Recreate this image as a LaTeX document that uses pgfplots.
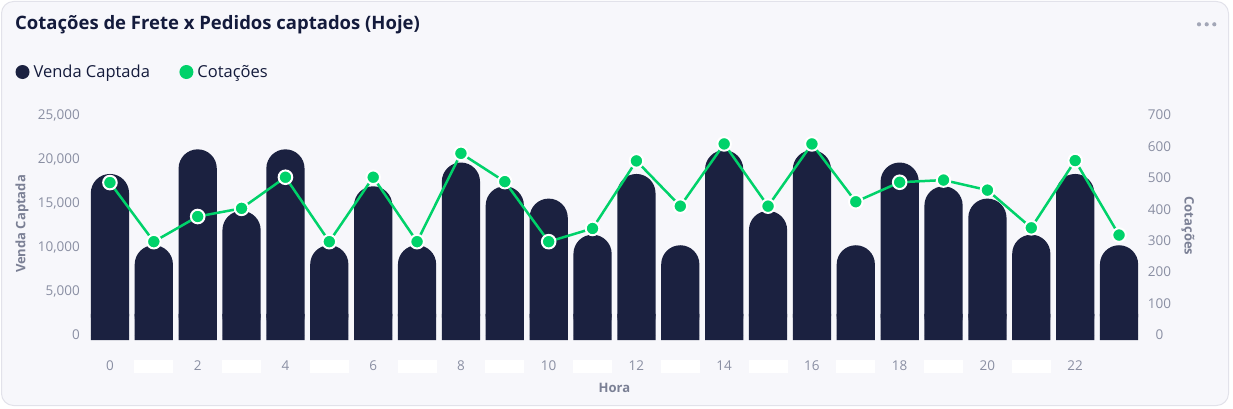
\documentclass[border=0pt]{standalone}
\usepackage{fontspec}
\setmainfont{Open Sans}
\usepackage{pgfplots}
\usepackage{pgfplotstable}
\pgfplotsset{compat=1.18}

\definecolor{navy}{HTML}{1B2140}
\definecolor{grn}{HTML}{00D26A}
\definecolor{ttl}{HTML}{141B3C}
\definecolor{tickc}{HTML}{8A8FA3}
\definecolor{axt}{HTML}{7B8095}
\definecolor{cardbg}{HTML}{F7F7FB}
\definecolor{cardbd}{HTML}{E2E2EA}
\definecolor{dots}{HTML}{A3A7B7}

\pgfplotstableread{
h v c
0 18300 485
1 10200 297
2 21100 377
3 14100 403
4 21100 502
5 10200 297
6 16900 502
7 10200 297
8 19600 578
9 16900 488
10 15500 297
11 11400 339
12 18300 554
13 10200 410
14 21000 608
15 14100 410
16 21000 608
17 10200 424
18 19600 486
19 16900 493
20 15500 461
21 11400 341
22 18300 555
23 10200 318
}\data

\newcommand{\wb}{\textcolor{white}{\rule{39pt}{13pt}}}
\newcommand{\tickfont}{\fontsize{13.5}{16}\selectfont}
\newcommand{\axfont}{\fontsize{13}{15}\selectfont\bfseries}

\begin{document}
\begin{tikzpicture}
\path[draw=none, fill=none] (0pt,0pt) rectangle (1233pt,408pt);
\draw[cardbd, fill=cardbg, rounded corners=12pt, line width=1pt] (1.5pt,2.5pt) rectangle (1228.5pt,406.5pt);
\node[anchor=west, inner sep=0pt, text=ttl, font=\fontsize{18.5}{22}\selectfont\bfseries] at (15pt,383pt) {Cotações de Frete x Pedidos captados (Hoje)};
\fill[dots] (1199pt,383.7pt) circle (2.1pt) (1206.7pt,383.7pt) circle (2.1pt) (1214.3pt,383.7pt) circle (2.1pt);

\begin{axis}[
  at={(88pt,68pt)}, anchor=south west, scale only axis,
  width=1053pt, height=225pt,
  xmin=-0.5, xmax=23.5, ymin=-568.2, ymax=25000,
  axis line style={draw=none}, major tick length=0pt,
  clip=false, scaled y ticks=false,
  xtick={0,...,23},
  xticklabels={0,\wb,2,\wb,4,\wb,6,\wb,8,\wb,10,\wb,12,\wb,14,\wb,16,\wb,18,\wb,20,\wb,22,},
  xticklabel style={anchor=center, yshift=-26pt, inner sep=0pt, font=\tickfont, text=tickc},
  ytick={0,5000,...,25000},
  yticklabel style={anchor=east, xshift=-8pt, inner sep=0pt, font=\tickfont, text=tickc,
    /pgf/number format/1000 sep={,}, /pgf/number format/assume math mode=true},
  xlabel={Hora}, ylabel={Venda Captada},
  every axis x label/.style={at={(rel axis cs:0.5,-0.2133)}, anchor=center, font=\axfont, text=axt},
  every axis y label/.style={at={(rel axis cs:-0.0627,0.5156)}, rotate=90, anchor=center, font=\axfont, text=axt},
  legend style={at={(rel axis cs:-0.06885,1.1911)}, anchor=west, draw=none, fill=none,
    inner sep=0pt, outer sep=0pt, font=\fontsize{16.5}{19}\selectfont,
    nodes={inner sep=0pt, text=ttl},
    /tikz/every even column/.append style={column sep=29.5pt}},
  legend columns=2,
]
\addlegendimage{legend image code/.code={\path[draw=none,fill=none] (0pt,0pt) rectangle (17.5pt,0pt); \fill[navy, draw=none] (6.5pt,0pt) circle (7pt);}}
\addlegendentry{Venda Captada}
\addlegendimage{legend image code/.code={\path[draw=none,fill=none] (0pt,0pt) rectangle (17.5pt,0pt); \fill[grn, draw=none] (6.5pt,0pt) circle (7pt);}}
\addlegendentry{Cotações}

% bars with fully rounded tops
\addplot[forget plot, ybar, bar width=38.2pt, bar shift=0pt, fill=navy, draw=none, rounded corners=19.1pt]
  table[x=h, y=v] {\data};
% flat bottom segments (cover the lower rounding and the small overhang below zero)
\addplot[forget plot, ybar, bar width=38.2pt, bar shift=0pt, fill=navy, draw=none]
  coordinates {(0,2400) (1,2400) (2,2400) (3,2400) (4,2400) (5,2400) (6,2400) (7,2400)
  (8,2400) (9,2400) (10,2400) (11,2400) (12,2400) (13,2400) (14,2400) (15,2400)
  (16,2400) (17,2400) (18,2400) (19,2400) (20,2400) (21,2400) (22,2400) (23,2400)};
\addplot[forget plot, ybar, bar width=38.2pt, bar shift=0pt, fill=navy, draw=none]
  coordinates {(0,-568) (1,-568) (2,-568) (3,-568) (4,-568) (5,-568) (6,-568) (7,-568)
  (8,-568) (9,-568) (10,-568) (11,-568) (12,-568) (13,-568) (14,-568) (15,-568)
  (16,-568) (17,-568) (18,-568) (19,-568) (20,-568) (21,-568) (22,-568) (23,-568)};
\end{axis}

\begin{axis}[
  at={(88pt,68pt)}, anchor=south west, scale only axis,
  width=1053pt, height=225pt,
  xmin=-0.5, xmax=23.5, ymin=-15.9, ymax=700,
  axis line style={draw=none}, major tick length=0pt,
  clip=false,
  xtick=\empty,
  ytick={0,100,...,700},
  yticklabel pos=right,
  yticklabel style={anchor=center, xshift=18.5pt, inner sep=0pt, font=\tickfont, text=tickc,
    /pgf/number format/assume math mode=true},
  ylabel={Cotações},
  every axis y label/.style={at={(rel axis cs:1.0446,0.5067)}, rotate=-90, anchor=center, font=\axfont, text=axt},
]
\addplot[grn, line width=2.5pt, mark=*, mark size=6.8pt, mark options={fill=grn, draw=white, line width=2pt}]
  table[x=h, y=c] {\data};
\end{axis}
\end{tikzpicture}
\end{document}
